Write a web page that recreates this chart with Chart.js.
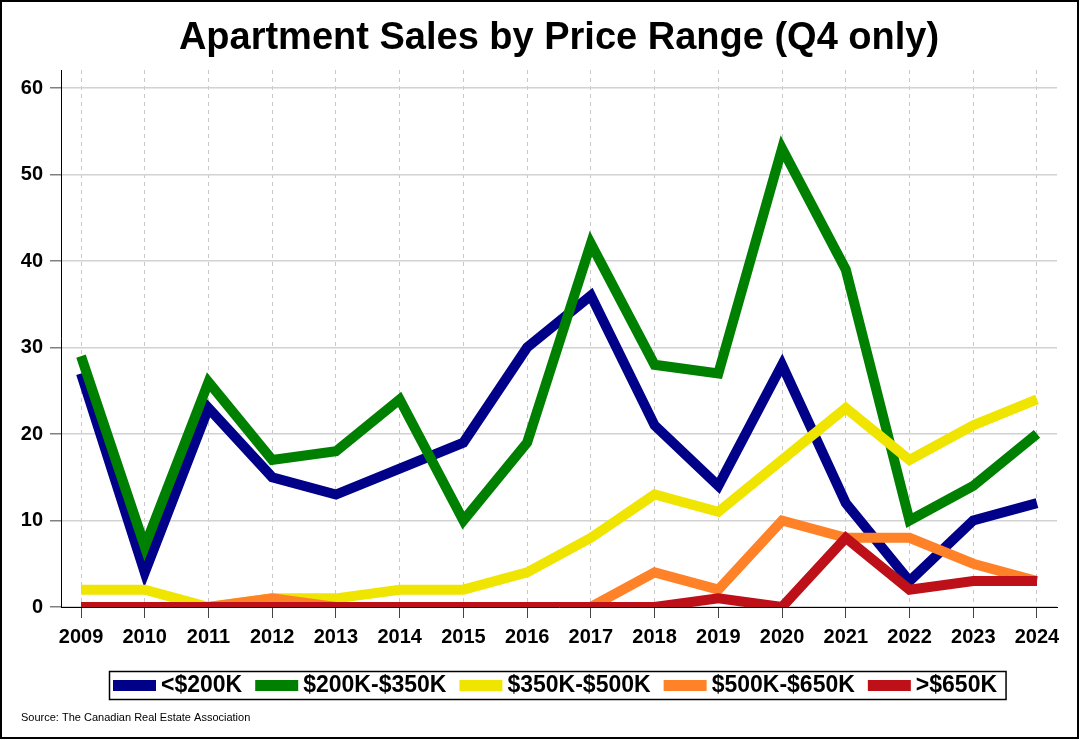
<!DOCTYPE html>
<html>
<head>
<meta charset="utf-8">
<script src="https://cdn.jsdelivr.net/npm/chart.js@4"></script>
<style>
  html, body { margin: 0; padding: 0; background: #fff; }
  #wrap { width: 1080px; height: 740px; }
</style>
</head>
<body>
<div id="wrap"><canvas id="myChart" width="1080" height="740"></canvas></div>
<script>
// data
const years = [2009, 2010, 2011, 2012, 2013, 2014, 2015, 2016, 2017, 2018, 2019, 2020, 2021, 2022, 2023, 2024];
const yTicks = [0, 10, 20, 30, 40, 50, 60];
const seriesNames = ["<$200K", "$200K-$350K", "$350K-$500K", "$500K-$650K", ">$650K"];
const under200 = [27, 4, 23, 15, 13, 16, 19, 30, 36, 21, 14, 28, 12, 3, 10, 12];
const from200to350 = [29, 7, 26, 17, 18, 24, 10, 19, 42, 28, 27, 53, 39, 10, 14, 20];
const from350to500 = [2, 2, 0, 1, 1, 2, 2, 4, 8, 13, 11, 17, 23, 17, 21, 24];
const from500to650 = [0, 0, 0, 1, 0, 0, 0, 0, 0, 4, 2, 10, 8, 8, 5, 3];
const over650 = [0, 0, 0, 0, 0, 0, 0, 0, 0, 0, 1, 0, 8, 2, 3, 3];
const colors = ["#000088", "#008000", "#F0E500", "#FF8228", "#BE1018"];

const FONT = '"Liberation Sans", Arial, sans-serif';

const allSeries = [under200, from200to350, from350to500, from500to650, over650];
const datasets = allSeries.map((vals, i) => ({
    label: seriesNames[i],
    data: years.map((y, j) => ({ x: y, y: vals[j] })),
    borderColor: colors[i],
    backgroundColor: colors[i],
    borderWidth: 10,
    borderJoinStyle: "miter",
    borderCapStyle: "butt",
    pointRadius: 0,
    tension: 0,
    // later series sit on top
    order: allSeries.length - i,
}));

// title, legend box, source note and outer frame
const decorations = {
    id: "decorations",
    afterDraw(chart) {
        const ctx = chart.ctx;
        ctx.save();
        ctx.fillStyle = "#000";
        ctx.font = "bold 38px " + FONT;
        ctx.textAlign = "center";
        ctx.textBaseline = "alphabetic";
        ctx.fillText("Apartment Sales by Price Range (Q4 only)", 559, 49);

        // legend
        ctx.font = "bold 23px " + FONT;
        ctx.textAlign = "left";
        ctx.textBaseline = "middle";
        let x = 113;
        const cy = 685;
        chart.data.datasets.forEach((ds) => {
            ctx.fillStyle = ds.borderColor;
            ctx.fillRect(x, cy - 5, 43, 11);
            x += 48;
            ctx.fillStyle = "#000";
            ctx.fillText(ds.label, x, cy + 1);
            x += ctx.measureText(ds.label).width + 13;
        });
        ctx.lineWidth = 1.5;
        ctx.strokeStyle = "#000";
        ctx.strokeRect(109.5, 671.5, x - 13 + 9 - 109.5, 28);

        ctx.font = "11px " + FONT;
        ctx.textBaseline = "middle";
        ctx.fillText("Source: The Canadian Real Estate Association", 21, 718);

        ctx.lineWidth = 2;
        ctx.strokeRect(1, 1, 1077, 737);
        ctx.restore();
    },
};

const ctx = document.getElementById("myChart").getContext("2d");
const myChart = new Chart(ctx, {
    type: "line",
    data: { datasets: datasets },
    plugins: [decorations],
    options: {
        responsive: false,
        animation: false,
        layout: { padding: { top: 70, right: 23, bottom: 0, left: 0 } },
        plugins: {
            legend: { display: false },
            title: { display: false },
            tooltip: { enabled: false },
        },
        scales: {
            x: {
                type: "linear",
                min: 2008.686,
                max: 2024.314,
                afterBuildTicks: (scale) => { scale.ticks = years.map((v) => ({ value: v })); },
                afterFit: (scale) => { scale.height = 133; },
                grid: {
                    color: "#c8c8c8",
                    lineWidth: 1,
                    tickColor: "#444",
                    tickLength: 11,
                    tickBorderDash: [],
                },
                border: { display: true, color: "#000", width: 1, dash: [4, 4] },
                ticks: {
                    color: "#000",
                    font: { family: FONT, size: 20, weight: "bold" },
                    padding: 7,
                    maxRotation: 0,
                    autoSkip: false,
                    callback: (v) => String(v),
                },
            },
            y: {
                min: 0,
                max: 62.08,
                afterBuildTicks: (scale) => { scale.ticks = yTicks.map((v) => ({ value: v })); },
                afterFit: (scale) => { scale.width = 61; },
                grid: {
                    color: "#d2d2d2",
                    lineWidth: 1.5,
                    tickColor: "#808080",
                    tickLength: 11,
                },
                border: { display: true, color: "#000", width: 1 },
                ticks: {
                    color: "#000",
                    font: { family: FONT, size: 20, weight: "bold" },
                    padding: 7,
                },
            },
        },
    },
});
</script>
</body>
</html>
